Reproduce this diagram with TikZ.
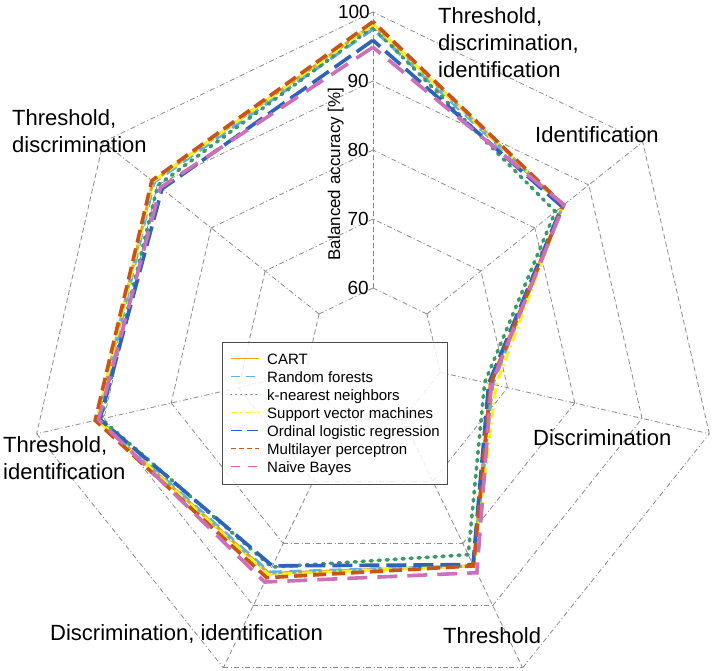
\documentclass[tikz,border=0pt]{standalone}
\usepackage{fontspec}
\setmainfont{Liberation Sans}
\usetikzlibrary{calc}
\definecolor{cCART}{rgb}{0.90,0.65,0.14}
\definecolor{cRF}{rgb}{0.38,0.69,0.90}
\definecolor{cKNN}{rgb}{0.24,0.60,0.40}
\definecolor{cSVM}{rgb}{1.00,0.94,0.10}
\definecolor{cOLR}{rgb}{0.18,0.39,0.72}
\definecolor{cMLP}{rgb}{0.78,0.33,0.10}
\definecolor{cNB}{rgb}{0.80,0.44,0.72}
\definecolor{cGrid}{rgb}{0.55,0.55,0.55}
\begin{document}
\begin{tikzpicture}[x=1pt,y=1pt,
  gdd/.style={cGrid,line width=0.8pt,dash pattern=on 5pt off 2.5pt on 1pt off 2.5pt},
  gdash/.style={cGrid,line width=0.8pt,dash pattern=on 5pt off 3pt},
  lCART/.style={cCART,line width=3pt,line join=miter},
  lRF/.style={cRF,line width=3pt,dash pattern=on 12pt off 8pt},
  lKNN/.style={cKNN,line width=3.6pt,line cap=round,dash pattern=on 2pt off 6pt},
  lSVM/.style={cSVM,line width=3pt,dash pattern=on 10pt off 4pt on 2pt off 4pt},
  lOLR/.style={cOLR,line width=3.6pt,dash pattern=on 20pt off 7pt},
  lMLP/.style={cMLP,line width=3.6pt,dash pattern=on 13pt off 6pt},
  lNB/.style={cNB,line width=3.6pt,dash pattern=on 20pt off 10pt},
  kCART/.style={cCART,line width=1.6pt},
  kRF/.style={cRF,line width=1.4pt,dash pattern=on 9pt off 6pt},
  kKNN/.style={cKNN,line width=1.6pt,line cap=round,dash pattern=on 0.5pt off 4.5pt},
  kSVM/.style={cSVM,line width=1.6pt,dash pattern=on 6pt off 3pt on 1.5pt off 3pt},
  kOLR/.style={cOLR,line width=1.6pt,dash pattern=on 11pt off 5pt},
  kMLP/.style={cMLP,line width=1.6pt,dash pattern=on 5pt off 3pt},
  kNB/.style={cNB,line width=1.6pt,dash pattern=on 9pt off 8pt},
  axlabel/.style={inner sep=0pt,font=\fontsize{22}{27}\selectfont,align=left},
  ticklab/.style={inner sep=0pt,font=\fontsize{19}{22}\selectfont,anchor=east},
  legtext/.style={inner sep=0pt,font=\fontsize{15}{18}\selectfont,anchor=base west}
]
\useasboundingbox (0,0) rectangle (714,670);
\fill[white] (0,0) rectangle (714,670);

\begin{scope}[shift={(373,313)}]
  % web rings
  \foreach \v in {60,70,80,90,100}{
    \pgfmathsetmacro{\r}{(\v-50)*6.9}
    \foreach \k/\st in {0/gdd,1/gdash,2/gdd,3/gdd,4/gdd,5/gdash,6/gdd}{
      \draw[\st] ({90+\k*360/7}:\r) -- ({90+(\k+1)*360/7}:\r);
    }
  }
  % spokes
  \foreach \k/\st in {0/gdash,1/gdd,2/gdd,3/gdash,4/gdash,5/gdd,6/gdd}{
    \draw[\st] ({90+\k*360/7}:69) -- ({90+\k*360/7}:345);
  }
  % data
  \newcommand\radarline[8]{%
    \draw[#1] (90:{(#2-50)*6.9}) -- ({90+360/7}:{(#3-50)*6.9})
      -- ({90+720/7}:{(#4-50)*6.9}) -- ({90+1080/7}:{(#5-50)*6.9})
      -- ({90+1440/7}:{(#6-50)*6.9}) -- ({90+1800/7}:{(#7-50)*6.9})
      -- ({90+2160/7}:{(#8-50)*6.9}) -- cycle;}
  \radarline{lCART}{98.2}{90.8}{91.0}{84.8}{83.6}{67.4}{85.2}
  \radarline{lRF}{97.5}{90.6}{90.8}{84.6}{83.6}{67.8}{85.2}
  \radarline{lKNN}{97.8}{89.9}{90.4}{83.8}{81.8}{66.6}{83.8}
  \radarline{lSVM}{98.2}{90.8}{91.0}{85.0}{83.6}{68.3}{85.2}
  \radarline{lOLR}{95.9}{89.1}{90.6}{83.6}{83.4}{67.2}{85.0}
  \radarline{lMLP}{98.6}{91.0}{91.3}{85.5}{83.6}{67.5}{85.3}
  \radarline{lNB}{94.9}{89.4}{90.8}{86.2}{84.7}{67.6}{85.4}
\end{scope}

% tick labels
\node[ticklab] (t60) at (369,382) {60};
\node[ticklab] (t70) at (369,451) {70};
\node[ticklab] (t80) at (369,520) {80};
\node[ticklab] (t90) at (369,589) {90};
\node[ticklab] (t100) at (370,658) {100};
\node[inner sep=0pt,font=\fontsize{17}{20}\selectfont,rotate=90,anchor=base] (ylab) at (340,496) {Balanced accuracy [\%]};

% axis labels
\node[axlabel,anchor=north west] (lTDI) at (438,663) {Threshold,\\discrimination,\\identification};
\node[axlabel,anchor=base west] (lI) at (535,527) {Identification};
\node[axlabel,anchor=base west] (lD) at (533,225) {Discrimination};
\node[axlabel,anchor=base west] (lT) at (443,27) {Threshold};
\node[axlabel,anchor=base west] (lDI) at (50,30) {Discrimination, identification};
\node[axlabel,anchor=north west] (lTI) at (3,234) {Threshold,\\identification};
\node[axlabel,anchor=north west] (lTD) at (12,561) {Threshold,\\discrimination};

% legend
\fill[white,fill opacity=0.85] (222,186) rectangle (447,328);
\draw[black!70,line width=0.8pt] (222,186) rectangle (447,328);
\foreach \i/\st/\txt in {0/kCART/CART,1/kRF/Random forests,2/kKNN/k-nearest neighbors,3/kSVM/Support vector machines,4/kOLR/Ordinal logistic regression,5/kMLP/Multilayer perceptron,6/kNB/Naive Bayes}{
  \draw[\st] (231,{311.5-18*\i}) -- (259,{311.5-18*\i});
  \node[legtext] (leg\i) at (267,{306-18*\i}) {\txt};
}
\end{tikzpicture}
\end{document}
